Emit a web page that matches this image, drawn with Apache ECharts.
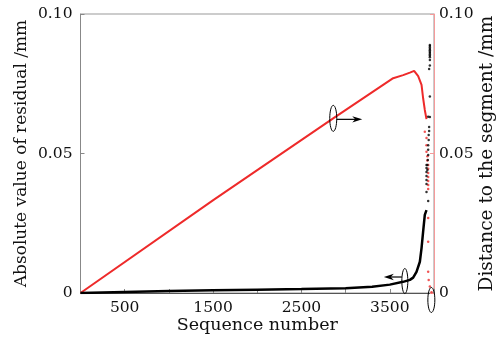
<!DOCTYPE html>
<html>
<head>
<meta charset="utf-8">
<script src="https://cdn.jsdelivr.net/npm/echarts@6/dist/echarts.min.js"></script>
<style>
html,body{margin:0;padding:0;background:#fff;}
#c{width:497px;height:342px;}
</style>
</head>
<body>
<div id="c"></div>
<script>
// ---- data ----
var xTickLabels = [500, 1500, 2500, 3500];
var yTickLabels = {'0': '0', '0.05': '0.05', '0.1': '0.10'};

// black: absolute value of residual (left axis)
var residualLine = [
  [0, 0], [250, 0.0002], [500, 0.0004], [1000, 0.0007], [1500, 0.0010], [2000, 0.0012],
  [2500, 0.0014], [3000, 0.0017], [3300, 0.0022], [3500, 0.0030], [3650, 0.0040],
  [3727, 0.0047], [3764, 0.0055], [3802, 0.0076], [3840, 0.0112], [3859, 0.0161],
  [3877, 0.0220], [3896, 0.0280], [3915, 0.0297]
];
var residualDots = [
  [3934, 0.0330], [3915, 0.0362], [3915, 0.0391], [3915, 0.0405], [3915, 0.0419],
  [3915, 0.0434], [3915, 0.0448], [3915, 0.0459], [3925, 0.0441], [3925, 0.0459],
  [3930, 0.0477], [3934, 0.0495], [3934, 0.0513], [3934, 0.0530], [3940, 0.0548],
  [3940, 0.0566], [3945, 0.0581], [3945, 0.0595], [3953, 0.0631], [3934, 0.0632],
  [3953, 0.0704], [3945, 0.0803], [3953, 0.0815], [3953, 0.0835], [3953, 0.0845],
  [3953, 0.0850], [3953, 0.0855], [3953, 0.0860], [3953, 0.0865], [3953, 0.0870],
  [3953, 0.0875], [3953, 0.0880], [3953, 0.0885], [3953, 0.0889]
];

// red: distance to the segment (right axis)
var distanceLine = [
  [0, 0], [1502, 0.0333], [2859, 0.0626], [3538, 0.0770], [3651, 0.0781],
  [3727, 0.0790], [3775, 0.0796], [3821, 0.0777], [3859, 0.0746], [3877, 0.0698],
  [3896, 0.0656], [3915, 0.0623]
];
var distanceDots = [
  [3896, 0.0578], [3915, 0.0556], [3915, 0.0530], [3915, 0.0506], [3925, 0.0490],
  [3925, 0.0475], [3934, 0.0459], [3934, 0.0445], [3934, 0.0430], [3934, 0.0416],
  [3934, 0.0401], [3934, 0.0387], [3934, 0.0373], [3934, 0.0269], [3934, 0.0184],
  [3934, 0.0076], [3940, 0.0047], [3953, 0.0023], [3972, 0.0003]
];

// annotation anchors in data coordinates (left-axis y)
var ellipseRed = [2860, 0.0626];
var ellipseBlack = [3670, 0.0043];
var ellipseEnd = [3970, -0.0025];

var FONT = 'DejaVu Serif';
var chart = echarts.init(document.getElementById('c'), null, {renderer: 'canvas'});

chart.setOption({
  animation: false,
  backgroundColor: '#fff',
  grid: {left: 80.5, right: 63, top: 14, bottom: 49, show: true, borderColor: '#999', borderWidth: 1,
         containLabel: false, outerBoundsMode: 'none'},
  xAxis: {
    type: 'value', min: 0, max: 4000, interval: 500,
    name: 'Sequence number', nameLocation: 'middle', nameGap: 23, nameMoveOverlap: false,
    nameTextStyle: {fontFamily: FONT, fontSize: 17.5, color: '#111'},
    axisLine: {show: true, lineStyle: {color: '#555', width: 1}},
    axisTick: {show: true, inside: true, length: 4, lineStyle: {color: '#888'}},
    axisLabel: {
      fontFamily: FONT, fontSize: 15.5, color: '#111', margin: 7,
      formatter: function (v) { return xTickLabels.indexOf(v) >= 0 ? String(v) : ''; }
    },
    splitLine: {show: false}
  },
  yAxis: [{
    type: 'value', min: 0, max: 0.1, interval: 0.05, position: 'left',
    name: 'Absolute value of residual /mm', nameLocation: 'middle', nameGap: 50, nameMoveOverlap: false,
    nameTextStyle: {fontFamily: FONT, fontSize: 17, color: '#111'},
    axisLine: {show: true, lineStyle: {color: '#888', width: 1}},
    axisTick: {show: true, inside: true, length: 4, lineStyle: {color: '#888'}},
    axisLabel: {fontFamily: FONT, fontSize: 15.5, color: '#111', margin: 8,
      formatter: function (v) { var k = String(Math.round(v * 100) / 100); return yTickLabels[k] || ''; }},
    splitLine: {show: false}
  }, {
    type: 'value', min: 0, max: 0.1, interval: 0.05, position: 'right',
    name: 'Distance to the segment /mm', nameLocation: 'middle', nameGap: 44, nameRotate: 90, nameMoveOverlap: false,
    nameTextStyle: {fontFamily: FONT, fontSize: 18.5, color: '#111'},
    axisLine: {show: true, lineStyle: {color: '#f59a9a', width: 1}},
    axisTick: {show: true, inside: true, length: 4, lineStyle: {color: '#f59a9a'}},
    axisLabel: {fontFamily: FONT, fontSize: 15.5, color: '#111', margin: 5,
      formatter: function (v) { var k = String(Math.round(v * 100) / 100); return yTickLabels[k] || ''; }},
    splitLine: {show: false}
  }],
  series: [{
    type: 'line', yAxisIndex: 1, data: distanceLine, showSymbol: false, smooth: false,
    lineStyle: {color: '#ee2a2a', width: 2}, z: 3
  }, {
    type: 'scatter', yAxisIndex: 1, data: distanceDots, symbolSize: 2.5,
    itemStyle: {color: '#ee2a2a'}, z: 3
  }, {
    type: 'line', yAxisIndex: 0, data: residualLine, showSymbol: false, smooth: false,
    lineStyle: {color: '#000', width: 2.5}, z: 4
  }, {
    type: 'scatter', yAxisIndex: 0, data: residualDots, symbolSize: 2.5,
    itemStyle: {color: '#000'}, z: 4
  }]
});

function px(p) { return chart.convertToPixel({xAxisIndex: 0, yAxisIndex: 0}, p); }
function arrow(x1, y, x2) {
  var dir = x2 > x1 ? 1 : -1;
  var L = 10, W = 3.2;
  return [
    {type: 'line', shape: {x1: x1, y1: y, x2: x2 - dir * 6, y2: y}, style: {stroke: '#000', lineWidth: 1.2}, z: 10},
    {type: 'polygon', shape: {points: [[x2, y], [x2 - dir * L, y - W], [x2 - dir * 7, y], [x2 - dir * L, y + W]]},
     style: {fill: '#000'}, z: 10}
  ];
}
var a = px(ellipseRed), b = px(ellipseBlack), c = px(ellipseEnd);
var els = [];
els.push({type: 'ellipse', shape: {cx: a[0], cy: a[1], rx: 3.5, ry: 13}, style: {fill: 'none', stroke: '#000', lineWidth: 1}, z: 10});
els = els.concat(arrow(a[0] + 3.5, a[1] + 1, a[0] + 29));
els.push({type: 'ellipse', shape: {cx: b[0], cy: b[1], rx: 3, ry: 12.5}, style: {fill: 'none', stroke: '#000', lineWidth: 1}, z: 10});
els = els.concat(arrow(b[0] - 3, b[1] - 4, b[0] - 21));
els.push({type: 'ellipse', shape: {cx: c[0], cy: c[1], rx: 3.5, ry: 12.5}, style: {fill: 'none', stroke: '#000', lineWidth: 1}, z: 10});
chart.setOption({graphic: {elements: els}});
</script>
</body>
</html>
